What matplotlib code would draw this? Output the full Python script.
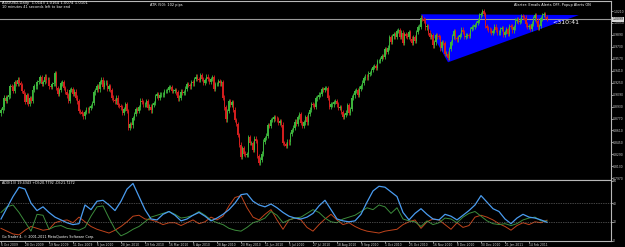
import matplotlib.pyplot as plt
from matplotlib.patches import Polygon
import matplotlib.transforms as mtransforms
import numpy as np

# daily closes AUDUSD, 6 Oct 2009 .. 2 Mar 2011 (16 bars per row = one date label)
closes = [
    0.8880, 0.8920, 0.9050, 0.9010, 0.9060, 0.9080, 0.9200, 0.9190, 0.9140, 0.9260, 0.9230, 0.9290, 0.9240, 0.9220, 0.9140, 0.9100,
    0.8990, 0.9080, 0.8970, 0.9040, 0.9010, 0.9150, 0.9200, 0.9200, 0.9260, 0.9270, 0.9320, 0.9230, 0.9260, 0.9330, 0.9280, 0.9290,
    0.9200, 0.9190, 0.9230, 0.9240, 0.9380, 0.9180, 0.9100, 0.9150, 0.9240, 0.9260, 0.9180, 0.9130, 0.9080, 0.9010, 0.9150, 0.9160,
    0.9100, 0.9130, 0.9050, 0.9000, 0.8870, 0.8860, 0.8830, 0.8800, 0.8860, 0.8890, 0.8880, 0.8910, 0.8940, 0.8980, 0.9120, 0.9150,
    0.9200, 0.9160, 0.9260, 0.9290, 0.9190, 0.9250, 0.9250, 0.9170, 0.9200, 0.9150, 0.9050, 0.9020, 0.9000, 0.9050, 0.8950, 0.8940,
    0.8920, 0.8850, 0.8900, 0.8960, 0.8870, 0.8650, 0.8700, 0.8680, 0.8780, 0.8830, 0.8900, 0.8870, 0.8920, 0.9010, 0.8990, 0.8960,
    0.8960, 0.9000, 0.8910, 0.8930, 0.8880, 0.8950, 0.8980, 0.9070, 0.9100, 0.9050, 0.9090, 0.9090, 0.9090, 0.9140, 0.9140, 0.9150,
    0.9190, 0.9190, 0.9140, 0.9140, 0.9150, 0.9120, 0.9040, 0.9050, 0.9130, 0.9110, 0.9120, 0.9170, 0.9230, 0.9220, 0.9200, 0.9260,
    0.9240, 0.9300, 0.9330, 0.9300, 0.9290, 0.9350, 0.9300, 0.9250, 0.9280, 0.9330, 0.9300, 0.9260, 0.9300, 0.9320, 0.9170, 0.9230,
    0.9230, 0.9270, 0.9240, 0.9260, 0.9050, 0.8920, 0.8760, 0.8870, 0.9000, 0.8950, 0.8990, 0.8890, 0.8750, 0.8700, 0.8550, 0.8420,
    0.8260, 0.8370, 0.8300, 0.8280, 0.8290, 0.8520, 0.8440, 0.8440, 0.8350, 0.8500, 0.8470, 0.8270, 0.8180, 0.8220, 0.8300, 0.8460,
    0.8510, 0.8540, 0.8680, 0.8670, 0.8750, 0.8760, 0.8790, 0.8770, 0.8760, 0.8710, 0.8740, 0.8690, 0.8440, 0.8430, 0.8400, 0.8460,
    0.8450, 0.8560, 0.8620, 0.8650, 0.8730, 0.8700, 0.8790, 0.8830, 0.8710, 0.8670, 0.8720, 0.8790, 0.8720, 0.8830, 0.8890, 0.8960,
    0.8950, 0.8930, 0.9040, 0.9060, 0.9090, 0.9100, 0.9160, 0.9150, 0.9180, 0.9180, 0.9050, 0.8930, 0.8960, 0.8960, 0.8990, 0.9000,
    0.8960, 0.8910, 0.8920, 0.8860, 0.8790, 0.8820, 0.8850, 0.8950, 0.8850, 0.8900, 0.9050, 0.9080, 0.9140, 0.9150, 0.9090, 0.9170,
    0.9200, 0.9250, 0.9310, 0.9330, 0.9320, 0.9370, 0.9380, 0.9420, 0.9460, 0.9470, 0.9450, 0.9540, 0.9540, 0.9570, 0.9610, 0.9600,
    0.9700, 0.9660, 0.9720, 0.9860, 0.9800, 0.9870, 0.9900, 0.9860, 0.9940, 0.9950, 0.9860, 0.9920, 0.9780, 0.9900, 0.9880, 0.9860,
    0.9930, 0.9840, 0.9780, 0.9860, 0.9810, 0.9930, 0.9990, 1.0000, 1.0120, 1.0100, 1.0080, 0.9990, 1.0010, 0.9920, 0.9860, 0.9890,
    0.9750, 0.9790, 0.9890, 0.9870, 0.9860, 0.9710, 0.9790, 0.9780, 0.9640, 0.9640, 0.9580, 0.9700, 0.9790, 0.9870, 0.9940, 0.9850,
    0.9830, 0.9860, 0.9890, 0.9960, 0.9930, 0.9860, 0.9880, 0.9890, 0.9880, 0.9970, 0.9990, 1.0000, 1.0020, 1.0050, 1.0080, 1.0150,
    1.0170, 1.0210, 1.0170, 1.0010, 0.9980, 0.9960, 0.9950, 0.9920, 0.9940, 1.0000, 0.9960, 0.9920, 0.9920, 0.9970, 0.9980, 0.9890,
    0.9930, 0.9970, 0.9900, 1.0010, 1.0000, 0.9950, 0.9990, 1.0080, 1.0100, 1.0060, 1.0080, 1.0140, 1.0130, 1.0120, 1.0030, 1.0000,
    1.0010, 0.9970, 1.0040, 1.0110, 1.0150, 1.0080, 0.9990, 1.0010, 1.0110, 1.0160, 1.0170, 1.0130, 1.0100,
]
first_open = 0.8840
bid = 1.0099

date_labels = ["6 Oct 2009", "28 Oct 2009", "19 Nov 2009", "11 Dec 2009", "6 Jan 2010", "28 Jan 2010",
               "19 Feb 2010", "16 Mar 2010", "6 Apr 2010", "28 Apr 2010", "20 May 2010", "11 Jun 2010",
               "5 Jul 2010", "27 Jul 2010", "18 Aug 2010", "9 Sep 2010", "1 Oct 2010", "25 Oct 2010",
               "16 Nov 2010", "8 Dec 2010", "30 Dec 2010", "21 Jan 2011", "14 Feb 2011"]
date_bars = [0, 16, 32, 48, 64, 80, 96, 112, 128, 144, 160, 176, 192, 208, 224, 240, 256, 272,
             288, 304, 320, 336, 352]

price_ticks = [0.7970, 0.8130, 0.8290, 0.8450, 0.8610, 0.8770, 0.8930, 0.9090, 0.9250,
               0.9410, 0.9570, 0.9730, 0.9890, 1.0050, 1.0210]

# triangle object (bar index, price)
tri_bars = [280, 298, 385.3]
tri_prices = [1.0166, 0.9523, 1.0156]

# ADX(13) panel, read every 4th bar
ind_bars = list(range(0, 365, 4))
adx = [23, 35, 47, 57, 55, 40, 32, 36, 30, 25, 22, 19, 17, 18, 38, 33,
       42, 43, 38, 32, 42, 55, 61, 47, 33, 23, 22, 28, 31, 27, 21, 23,
       27, 30, 26, 21, 24, 28, 33, 40, 49, 50, 42, 38, 36, 39, 35, 30,
       26, 24, 23, 25, 29, 37, 43, 33, 23, 21, 20, 21, 28, 41, 53, 58,
       57, 52, 47, 30, 22, 29, 34, 28, 23, 22, 28, 26, 22, 27, 32, 38,
       48, 41, 34, 31, 23, 18, 24, 28, 25, 24, 22, 19.43]
plus_di = [30, 36, 38, 30, 20, 10, 28, 27, 12, 15, 16, 13, 12, 11, 14, 26,
           36, 37, 24, 12, 5, 8, 12, 15, 20, 25, 27, 29, 31, 28, 24, 25,
           27, 31, 27, 22, 19, 17, 13, 11, 10, 14, 19, 21, 24, 31, 27, 19,
           22, 24, 25, 29, 33, 30, 24, 20, 19, 23, 25, 27, 31, 35, 33, 38,
           36, 29, 35, 23, 21, 20, 15, 21, 17, 19, 24, 23, 19, 25, 29, 31,
           26, 21, 18, 17, 18, 16, 18, 22, 24, 25, 21, 20.78]
minus_di = [13, 10, 7, 6, 11, 15, 13, 11, 12, 19, 21, 22, 19, 25, 20, 15,
            12, 10, 8, 11, 15, 20, 26, 27, 23, 22, 20, 17, 19, 19, 16, 19,
            22, 18, 20, 25, 22, 26, 37, 46, 48, 35, 25, 22, 28, 33, 22, 12,
            22, 24, 22, 14, 10, 17, 23, 28, 22, 17, 19, 15, 12, 10, 9, 8,
            10, 11, 12, 17, 20, 22, 13, 20, 23, 22, 17, 12, 19, 14, 16, 25,
            27, 25, 22, 18, 15, 11, 16, 19, 17, 20, 19, 21.73]

W, H = 625, 247
GREEN = "#3cb43c"
RED = "#d21e1e"
AXC = "#b8b8b8"
TXT = "#d0d0d0"


def fx(x, y):
    return x / W, 1 - y / H


def main():
    fig = plt.figure(figsize=(W / 100, H / 100), dpi=100, facecolor="black")

    ax = fig.add_axes([0, (H - 180) / H, 611 / W, 179 / H], facecolor="black")
    ax2 = fig.add_axes([0, (H - 240.5) / H, 611 / W, 60.5 / H], facecolor="black")

    # candles
    n = len(closes)
    bars = np.arange(n)
    cl = np.array(closes)
    op = np.array([first_open] + closes[:-1])
    up = cl >= op
    cols = np.where(up, GREEN, RED)
    wick = 0.003
    ax.vlines(bars, np.minimum(op, cl) - wick, np.maximum(op, cl) + wick,
              colors=cols, linewidth=0.6, zorder=3)
    ax.bar(bars, cl - op, bottom=op, width=0.7, color=cols, linewidth=0, zorder=3)

    ax.add_patch(Polygon(list(zip(tri_bars, tri_prices)), closed=True,
                         facecolor="#0000ff", edgecolor="none", zorder=1))
    ax.axhline(bid, color="#9a9a9a", linewidth=0.8, zorder=2)

    ax.set_xlim(-0.667, 406.67)
    ax.set_ylim(0.7947, 1.0344)
    ax.set_xticks([])
    ax.yaxis.tick_right()
    ax.set_yticks(price_ticks)
    ax.set_yticklabels([f"{p:.4f}" for p in price_ticks])
    ax.tick_params(axis="y", labelsize=2.2, colors=TXT, length=1.2, width=0.5, pad=0.4)
    ax.spines["left"].set_visible(False)
    for s in ["right", "bottom", "top"]:
        ax.spines[s].set_color(AXC)
        ax.spines[s].set_linewidth(0.8)

    trans = mtransforms.blended_transform_factory(ax.transAxes, ax.transData)
    ax.text(1.002, bid, f"{bid:.4f}", transform=trans, fontsize=2.2, color="black",
            va="center", ha="left",
            bbox=dict(facecolor="#d8d8d8", edgecolor="none", pad=0.3), clip_on=False)

    # ADX panel
    ax2.plot(ind_bars, minus_di, color="#c0441c", linewidth=0.7)
    ax2.plot(ind_bars, plus_di, color="#3c8c3c", linewidth=0.7)
    ax2.plot(ind_bars, adx, color="#4a9cf0", linewidth=0.9)
    for lv in [20, 40]:
        ax2.axhline(lv, color="#8a8a8a", linewidth=0.5, linestyle=(0, (1, 1.5)))
    ax2.set_xlim(-0.667, 406.67)
    ax2.set_ylim(0, 64.7)
    ax2.yaxis.tick_right()
    ax2.set_yticks([0, 20, 40, 64])
    ax2.tick_params(axis="y", labelsize=2.2, colors=TXT, length=1.2, width=0.5, pad=0.4)
    ax2.set_xticks(date_bars)
    ax2.set_xticklabels(date_labels, ha="left")
    ax2.tick_params(axis="x", labelsize=2.2, colors=TXT, length=1.2, width=0.5, pad=0.5)
    ax2.spines["left"].set_visible(False)
    for s in ["right", "bottom", "top"]:
        ax2.spines[s].set_color(AXC)
        ax2.spines[s].set_linewidth(0.8)

    # chart texts
    fig.text(*fx(2, 2.7), "AUDUSD,Daily  1.0143 1.0164 1.0074 1.0101", fontsize=2.7,
             color="white", va="center")
    fig.text(*fx(2, 6.5), "10 minutes 41 seconds left to bar end", fontsize=2.5,
             color="white", va="center")
    fig.text(*fx(150, 5), "ATR (50): 102 pips", fontsize=2.5, color="white", va="center")
    fig.text(*fx(514, 5), "Alerter: Emails Alerts OFF, Popup Alerts ON", fontsize=2.5,
             color="white", va="center")
    fig.text(*fx(552, 22.5), "<310:41", fontsize=4.5, color="white", va="center")
    fig.text(*fx(2, 183.5), "ADX(13) 19.4343 +DI:20.7792 -DI:21.7272", fontsize=2.4,
             color="white", va="center")
    fig.text(*fx(2, 236.5), "Go Trader 4, \u00a9 2001-2011 MetaQuotes Software Corp.",
             fontsize=2.4, color="white", va="center")

    fig.savefig("out.png", dpi=100, facecolor="black")


if __name__ == "__main__":
    main()
